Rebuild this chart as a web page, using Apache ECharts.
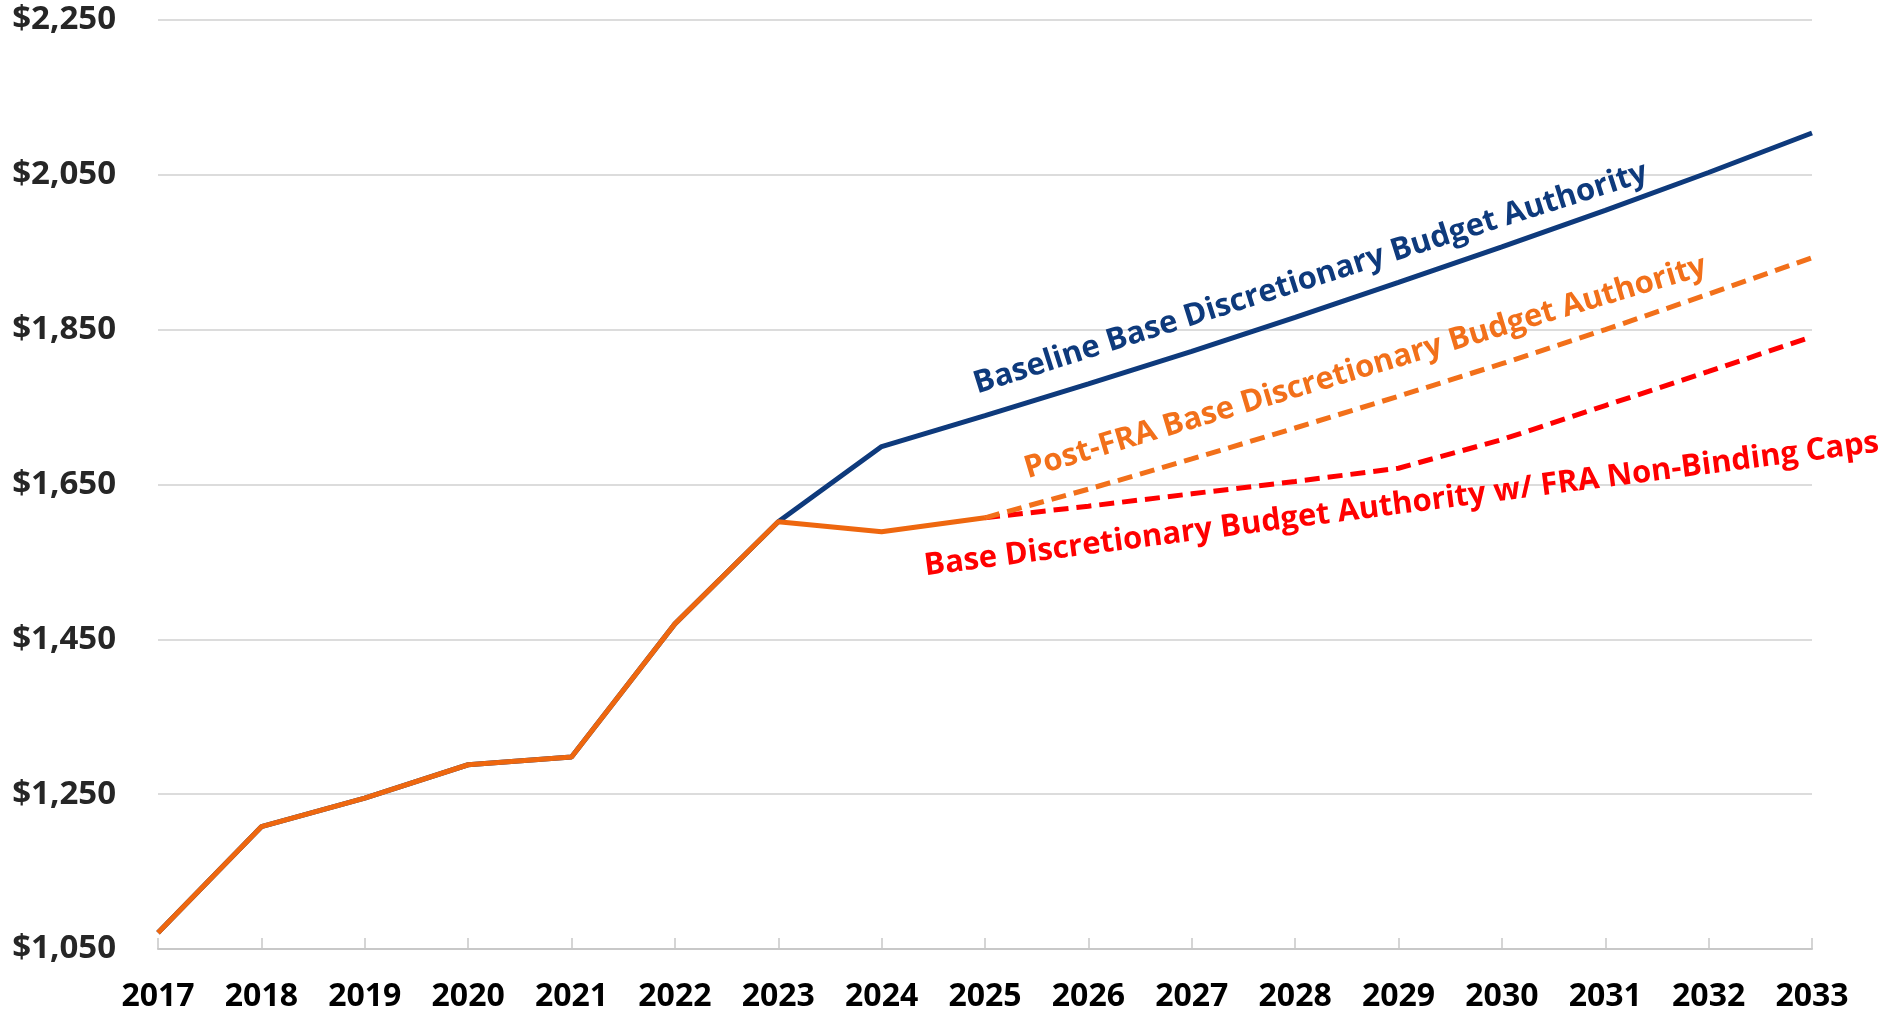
<!DOCTYPE html>
<html>
<head>
<meta charset="utf-8">
<title>Base Discretionary Budget Authority</title>
<script src="https://cdn.jsdelivr.net/npm/echarts@6/dist/echarts.min.js"></script>
<style>
  html, body { margin: 0; padding: 0; background: #fff; }
  #chartMain { width: 1893px; height: 1016px; }
</style>
</head>
<body>
<div id="chartMain"></div>
<script>
// years on the x axis
var years = [2017, 2018, 2019, 2020, 2021, 2022, 2023, 2024, 2025, 2026, 2027, 2028, 2029, 2030, 2031, 2032, 2033];
// shared history 2017-2023 (billions $)
var actual = [1071, 1208, 1245, 1288, 1298, 1470, 1602];
// 2024-2033
var baseline = [1699, 1739, 1780, 1822, 1866, 1911, 1957, 2004, 2053, 2104];
// 2024-2033
var postFRA = [1589, 1607, 1644, 1683, 1723, 1764, 1806, 1850, 1896, 1943];
// 2025-2033
var capped = [1607, 1622, 1638, 1654, 1671, 1708, 1752, 1796, 1841];
// labelled gridlines
var yTicks = [1050, 1250, 1450, 1650, 1850, 2050, 2250];
var seriesNames = [
  'Baseline Base Discretionary Budget Authority',
  'Post-FRA Base Discretionary Budget Authority',
  'Base Discretionary Budget Authority w/ FRA Non-Binding Caps'
];

var FONT = '"Open Sans", "DejaVu Sans", sans-serif';

// pair values with years, starting at a given year
function pairs(startYear, vals) {
  var out = [];
  for (var i = 0; i < vals.length; i++) out.push([startYear + i, vals[i]]);
  return out;
}

function noteLabel(text, color, rotate) {
  return {
    show: true,
    position: 'inside',
    formatter: text,
    rotate: rotate,
    color: color,
    fontFamily: FONT,
    fontWeight: 'bold',
    fontSize: 31
  };
}

var chart = echarts.init(document.getElementById('chartMain'));

var option = {
  animation: false,
  backgroundColor: '#ffffff',
  grid: { left: 158, right: 81, top: 20, bottom: 67, containLabel: false },
  xAxis: {
    type: 'value',
    min: 2017,
    max: 2033,
    interval: 1,
    axisLine: { show: true, lineStyle: { color: '#c8c8c8', width: 2 } },
    axisTick: { show: true, inside: true, length: 11, lineStyle: { color: '#c8c8c8', width: 1.5 } },
    splitLine: { show: false },
    axisLabel: {
      margin: 32,
      color: '#000000',
      fontFamily: FONT,
      fontWeight: 'bold',
      fontSize: 32,
      formatter: function (v) { return String(v); }
    }
  },
  yAxis: {
    type: 'value',
    min: 1050,
    max: 2250,
    interval: 50,
    axisLine: { show: false },
    axisTick: { show: false },
    splitLine: {
      show: true,
      lineStyle: { color: ['#d0d0d0', 'rgba(0,0,0,0)', 'rgba(0,0,0,0)', 'rgba(0,0,0,0)'], width: 1.5 }
    },
    axisLabel: {
      margin: 42,
      color: '#262626',
      fontFamily: FONT,
      fontWeight: 'bold',
      fontSize: 33,
      formatter: function (v) {
        return yTicks.indexOf(v) >= 0 ? '$' + v.toLocaleString('en-US') : '';
      }
    }
  },
  series: [
    {
      name: seriesNames[0],
      type: 'line',
      showSymbol: false,
      data: pairs(2017, actual.concat(baseline)),
      lineStyle: { color: '#0e3a7c', width: 5 },
      markPoint: {
        symbol: 'circle',
        symbolSize: 0,
        silent: true,
        data: [{ name: seriesNames[0], coord: [2028.15, 1916] }],
        label: noteLabel(seriesNames[0], '#0e3a7c', 17.6)
      }
    },
    {
      name: seriesNames[2],
      type: 'line',
      showSymbol: false,
      data: pairs(2025, capped),
      lineStyle: { color: '#ff0000', width: 5, type: [15, 8] },
      markPoint: {
        symbol: 'circle',
        symbolSize: 0,
        silent: true,
        data: [{ name: seriesNames[2], coord: [2029.03, 1624] }],
        label: noteLabel(seriesNames[2], '#ff0000', 7.4)
      }
    },
    {
      name: seriesNames[1] + ' (projected)',
      type: 'line',
      showSymbol: false,
      data: pairs(2025, postFRA.slice(1)),
      lineStyle: { color: '#f2701a', width: 5, type: [15, 8] },
      markPoint: {
        symbol: 'circle',
        symbolSize: 0,
        silent: true,
        data: [{ name: seriesNames[1], coord: [2028.68, 1801] }],
        label: noteLabel(seriesNames[1], '#f2701a', 16.7)
      }
    },
    {
      name: seriesNames[1],
      type: 'line',
      showSymbol: false,
      data: pairs(2017, actual.concat(postFRA.slice(0, 2))),
      lineStyle: { color: '#ee670f', width: 5 }
    }
  ]
};

chart.setOption(option);
</script>
</body>
</html>
